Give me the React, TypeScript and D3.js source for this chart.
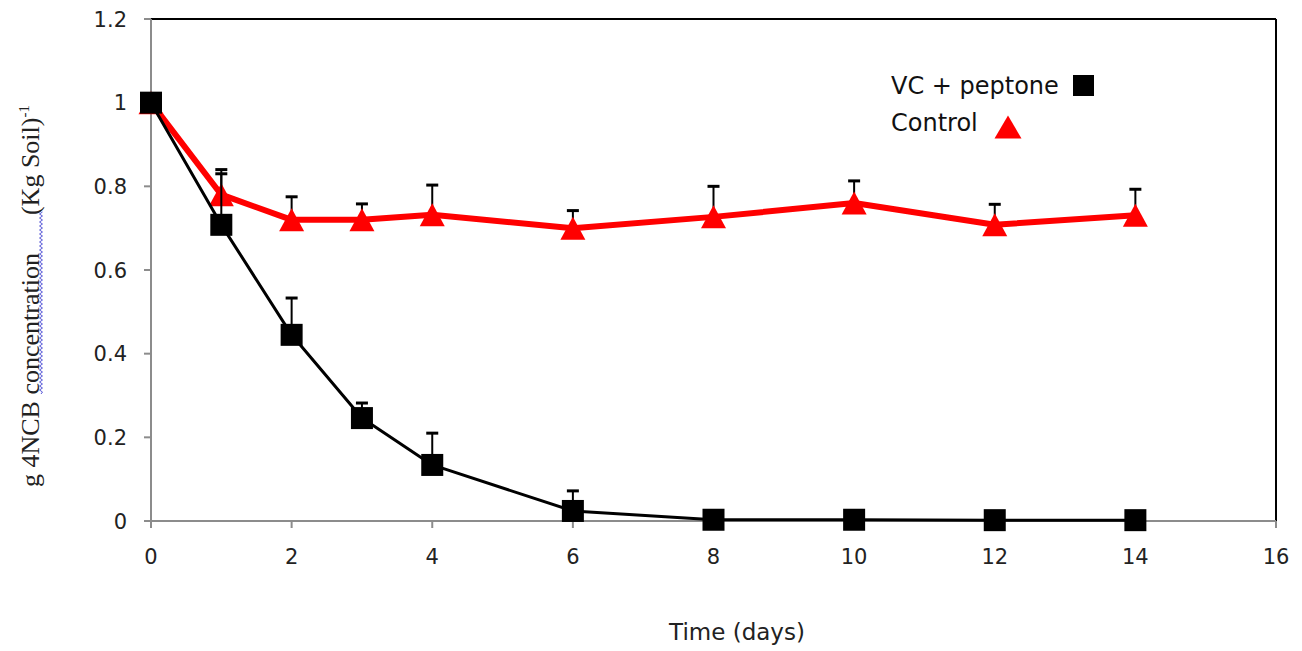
import React from "react";
import * as d3 from "d3";

const days = [0, 1, 2, 3, 4, 6, 8, 10, 12, 14];
const vcPeptone = [1.0, 0.708, 0.445, 0.246, 0.134, 0.024, 0.003, 0.003, 0.002, 0.002];
const vcPeptoneErr = [0, 0.132, 0.088, 0.036, 0.076, 0.048, 0, 0, 0, 0];
const control = [1.0, 0.78, 0.72, 0.72, 0.732, 0.70, 0.727, 0.76, 0.708, 0.731];
const controlErr = [0, 0.05, 0.055, 0.038, 0.071, 0.042, 0.073, 0.053, 0.049, 0.062];
const xTicks = [0, 2, 4, 6, 8, 10, 12, 14, 16];
const yTicks = [0, 0.2, 0.4, 0.6, 0.8, 1.0, 1.2];
const legendLabels = ["VC + peptone", "Control"];
const xTitle = "Time (days)";

const W = 1302;
const H = 651;
const L = 151, R = 1276, T = 19, B = 521;

export default function App() {
  const x = d3.scaleLinear().domain([0, 16]).range([L, R]);
  const y = d3.scaleLinear().domain([0, 1.2]).range([B, T]);
  const line = d3.line<number>().x((_, i) => x(days[i])).y((d) => y(d));
  const font = "'DejaVu Sans', sans-serif";
  const sq = 22;
  const triPath = (cx: number, cy: number, w = 25, h = 23) =>
    `M${cx - w / 2},${cy + h / 2}L${cx + w / 2},${cy + h / 2}L${cx},${cy - h / 2}Z`;

  const errBar = (xi: number, v: number, e: number, key: string) =>
    e > 0 ? (
      <g key={key}>
        <line x1={x(xi)} x2={x(xi)} y1={y(v)} y2={y(v + e)} stroke="#000" strokeWidth={2} />
        <line x1={x(xi) - 6} x2={x(xi) + 6} y1={y(v + e)} y2={y(v + e)} stroke="#000" strokeWidth={3} />
      </g>
    ) : null;

  // wavy underline under "concentration"
  const waveX = 41;
  const wy0 = 212, wy1 = 394;
  let wave = `M${waveX},${wy1}`;
  for (let yy = wy1, k = 0; yy > wy0; yy -= 2, k++) {
    wave += `L${waveX + (k % 2 === 0 ? 1.5 : -1.5)},${yy - 2}`;
  }

  return (
    <svg width={W} height={H} style={{ position: "absolute", left: 0, top: 0, background: "#fff" }}>
      <rect width={W} height={H} fill="#fff" />
      {/* frame */}
      <line x1={L} x2={R} y1={T} y2={T} stroke="#000" strokeWidth={2} />
      <line x1={R} x2={R} y1={T} y2={B} stroke="#000" strokeWidth={2} />
      <line x1={L} x2={L} y1={T} y2={B} stroke="#8c8c8c" strokeWidth={2} />
      <line x1={L} x2={R} y1={B} y2={B} stroke="#8c8c8c" strokeWidth={2} />
      {yTicks.map((t) => (
        <g key={"yt" + t}>
          <line x1={L - 7} x2={L} y1={y(t)} y2={y(t)} stroke="#8c8c8c" strokeWidth={2} />
          <text x={127} y={y(t)} dy="0.36em" textAnchor="end" fontFamily={font} fontSize={21} fill="#222">
            {d3.format("~g")(t)}
          </text>
        </g>
      ))}
      {xTicks.map((t) => (
        <g key={"xt" + t}>
          <line x1={x(t)} x2={x(t)} y1={B} y2={B + 7} stroke="#8c8c8c" strokeWidth={2} />
          <text x={x(t)} y={564} textAnchor="middle" fontFamily={font} fontSize={21} fill="#222">
            {t}
          </text>
        </g>
      ))}
      <text x={737} y={640} textAnchor="middle" fontFamily={font} fontSize={23} fill="#222">
        {xTitle}
      </text>
      {/* y label */}
      <g transform="translate(39,487) rotate(-90)">
        <text x={0} y={0} fontFamily="'Liberation Serif', 'Times New Roman', serif" fontSize={26} fill="#222">
          <tspan>g 4NCB concentration</tspan>
          <tspan dx={38}>(Kg Soil)</tspan>
          <tspan dy={-10} fontSize={15}>-1</tspan>
        </text>
      </g>
      <path d={wave} fill="none" stroke="#5a5ad8" strokeWidth={1} />

      {/* Control series */}
      <path d={line(control) || ""} fill="none" stroke="#ff0000" strokeWidth={6} strokeLinejoin="round" />
      {days.map((d, i) => errBar(d, control[i], controlErr[i], "ce" + i))}
      {days.map((d, i) => (
        <path key={"ct" + i} d={triPath(x(d), y(control[i]))} fill="#ff0000" />
      ))}

      {/* VC + peptone series */}
      <path d={line(vcPeptone) || ""} fill="none" stroke="#000" strokeWidth={3} strokeLinejoin="round" />
      {days.map((d, i) => errBar(d, vcPeptone[i], vcPeptoneErr[i], "ve" + i))}
      {days.map((d, i) => (
        <rect key={"vs" + i} x={x(d) - sq / 2} y={y(vcPeptone[i]) - sq / 2} width={sq} height={sq} fill="#000" />
      ))}

      {/* legend */}
      <text x={891} y={94} fontFamily={font} fontSize={24} fill="#111">{legendLabels[0]}</text>
      <rect x={1073} y={75} width={21} height={21} fill="#000" />
      <text x={891} y={131} fontFamily={font} fontSize={24} fill="#111">{legendLabels[1]}</text>
      <path d={triPath(1008, 127, 27, 23)} fill="#ff0000" />
    </svg>
  );
}
